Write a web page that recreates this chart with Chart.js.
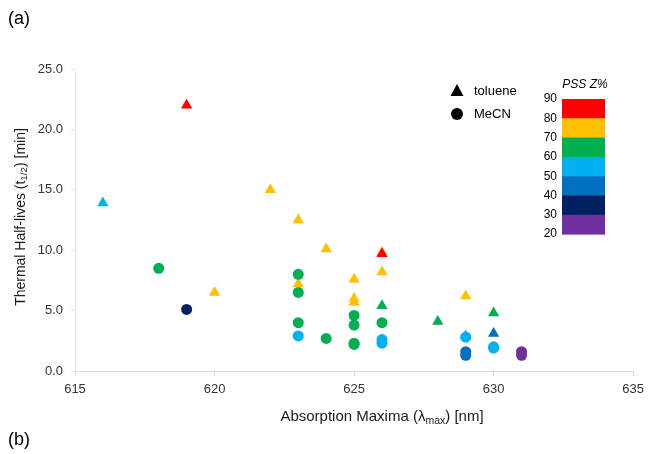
<!DOCTYPE html>
<html>
<head>
<meta charset="utf-8">
<script src="https://cdn.jsdelivr.net/npm/chart.js@4"></script>
<style>
  html, body { margin: 0; padding: 0; background: #fff; }
  #wrap { width: 650px; height: 454px; position: relative; }
</style>
</head>
<body>
<div id="wrap"><canvas id="chart" width="650" height="454"></canvas></div>
<script>
// PSS Z% bands for the colour scale (top to bottom)
const pssTicks = [90, 80, 70, 60, 50, 40, 30, 20];
const pssColors = ['#FF0000', '#FFC000', '#00B050', '#00B0F0', '#0070C0', '#002060', '#7030A0'];

// toluene (triangles)
const tolueneX = [616, 619, 620, 622, 623, 623, 624, 625, 625, 625, 626, 626, 626, 626, 628, 629, 629, 630, 630];
const tolueneY = [13.9, 22.0, 6.5, 15.0, 12.5, 7.2, 10.1, 7.6, 6.0, 5.7, 8.2, 9.8, 9.7, 5.4, 4.1, 6.2, 2.9, 4.8, 3.1];
const toluenePSS = [55, 85, 75, 75, 75, 75, 75, 75, 75, 75, 75, 75, 85, 65, 65, 75, 55, 65, 45];

// MeCN (circles)
const mecnX = [618, 619, 623, 623, 623, 623, 624, 625, 625, 625, 625, 626, 626, 626, 629, 629, 629, 630, 630, 631, 631];
const mecnY = [8.5, 5.1, 8.0, 6.5, 4.0, 2.9, 2.7, 4.6, 3.8, 2.3, 2.2, 4.0, 2.6, 2.3, 2.8, 1.6, 1.3, 2.0, 1.9, 1.6, 1.3];
const mecnPSS = [65, 35, 65, 65, 65, 55, 65, 65, 65, 65, 65, 65, 55, 55, 55, 45, 45, 55, 55, 25, 25];

const FONT = '"Liberation Sans", Arial, sans-serif';

const pssColor = v => {
    for (let i = 0; i < pssColors.length; i++) {
        if (v <= pssTicks[i] && v > pssTicks[i + 1]) return pssColors[i];
    }
    return '#000';
};

const toPoints = (xs, ys) => xs.map((x, i) => ({ x: x, y: ys[i] }));

// draws a string with a subscript part: parts = [[text, isSub], ...]
const drawRich = (ctx, parts, x, y, size) => {
    let total = 0;
    parts.forEach(([t, sub]) => {
        ctx.font = (sub ? size * 0.7 : size) + 'px ' + FONT;
        total += ctx.measureText(t).width;
    });
    let cx = x - total / 2;
    parts.forEach(([t, sub]) => {
        ctx.font = (sub ? size * 0.7 : size) + 'px ' + FONT;
        ctx.fillText(t, cx, sub ? y + size * 0.25 : y);
        cx += ctx.measureText(t).width;
    });
};

const extras = {
    id: 'extras',
    afterDraw(chart) {
        const ctx = chart.ctx;
        ctx.save();
        ctx.fillStyle = '#000';
        ctx.textBaseline = 'middle';
        ctx.textAlign = 'left';

        // panel letters
        ctx.font = '18px ' + FONT;
        ctx.fillText('(a)', 8, 19);
        ctx.fillText('(b)', 8, 440);

        // axis titles
        ctx.fillStyle = '#1a1a1a';
        drawRich(ctx, [['Absorption Maxima (\u03bb', false], ['max', true], [') [nm]', false]], 382, 417, 15);
        ctx.save();
        ctx.translate(21, 217);
        ctx.rotate(-Math.PI / 2);
        drawRich(ctx, [['Thermal Half-lives (t', false], ['1/2', true], [') [min]', false]], 0, 0, 14);
        ctx.restore();

        // shape legend
        ctx.fillStyle = '#000';
        ctx.beginPath();
        ctx.moveTo(457, 84);
        ctx.lineTo(463.5, 96);
        ctx.lineTo(450.5, 96);
        ctx.closePath();
        ctx.fill();
        ctx.beginPath();
        ctx.arc(457, 114, 6, 0, Math.PI * 2);
        ctx.fill();
        ctx.font = '13px ' + FONT;
        ctx.textAlign = 'left';
        ctx.fillText('toluene', 474, 91);
        ctx.fillText('MeCN', 474, 114);

        // PSS colour bar
        const bx = 562, bw = 43, top = 99, bh = 19.3;
        pssColors.forEach((c, i) => {
            ctx.fillStyle = c;
            ctx.fillRect(bx, top + i * bh, bw, bh + 0.5);
        });
        ctx.fillStyle = '#000';
        ctx.font = '12px ' + FONT;
        ctx.textAlign = 'right';
        pssTicks.forEach((t, i) => ctx.fillText(String(t), 557, top + i * bh));
        ctx.font = 'italic 12px ' + FONT;
        ctx.textAlign = 'center';
        ctx.fillText('PSS Z%', 585, 85);
        ctx.restore();
    }
};

new Chart(document.getElementById('chart').getContext('2d'), {
    type: 'scatter',
    data: {
        datasets: [
            {
                label: 'MeCN',
                data: toPoints(mecnX, mecnY),
                pointStyle: 'circle',
                pointRadius: 5.5,
                pointBackgroundColor: mecnPSS.map(pssColor),
                pointBorderWidth: 0,
                order: 0
            },
            {
                label: 'toluene',
                data: toPoints(tolueneX, tolueneY),
                pointStyle: 'triangle',
                pointRadius: 6.5,
                pointBackgroundColor: toluenePSS.map(pssColor),
                pointBorderWidth: 0,
                order: 1
            }
        ]
    },
    options: {
        responsive: false,
        animation: false,
        events: [],
        layout: { padding: { top: 69, right: 15, left: 0, bottom: 0 } },
        plugins: { legend: { display: false }, tooltip: { enabled: false } },
        scales: {
            x: {
                type: 'linear',
                min: 615,
                max: 635,
                afterFit: axis => { axis.height = 83; },
                ticks: {
                    stepSize: 5,
                    padding: 6,
                    color: '#333',
                    font: { family: FONT, size: 13 }
                },
                grid: { drawOnChartArea: false, drawTicks: true, tickLength: 5, color: '#d9d9d9' },
                border: { color: '#d9d9d9' }
            },
            y: {
                min: 0,
                max: 25,
                afterFit: axis => { axis.width = 75; },
                ticks: {
                    stepSize: 5,
                    padding: 8,
                    color: '#333',
                    font: { family: FONT, size: 13 },
                    callback: v => v.toFixed(1)
                },
                grid: { drawOnChartArea: false, drawTicks: true, tickLength: 4, color: '#e6e6e6' },
                border: { color: '#e6e6e6' }
            }
        }
    },
    plugins: [extras]
});
</script>
</body>
</html>
